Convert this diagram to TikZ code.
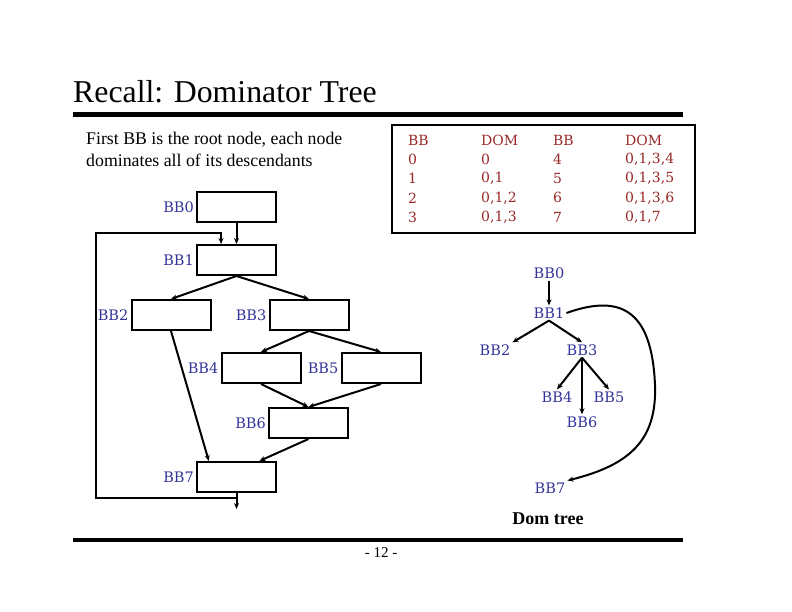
\documentclass[tikz,border=0pt]{standalone}
\usepackage{fontspec}
\setmainfont{Liberation Serif}
\newfontfamily\lblfont{DejaVu Serif}
\usetikzlibrary{calc,arrows.meta,positioning}

\definecolor{bbblue}{RGB}{51,51,153}
\definecolor{domred}{RGB}{153,40,40}

\tikzset{
  bbox/.style={draw,line width=2pt,minimum width=79pt,minimum height=30pt,inner sep=0pt},
  bblbl/.style={font=\lblfont\fontsize{14.5}{16}\selectfont,text=bbblue,inner sep=2pt},
  tbltxt/.style={font=\lblfont\fontsize{14}{16}\selectfont,text=domred,anchor=west,inner sep=0pt},
  edge/.style={line width=2pt,-{Stealth[length=6pt,width=5pt]}},
}

\begin{document}
\begin{tikzpicture}[x=1pt,y=-1pt]
  \useasboundingbox (0,0) rectangle (792,612);

  % title and rules
  \node[anchor=base west,inner sep=0pt,font=\fontsize{31.8}{34}\selectfont] (title) at (73,103) {Recall: Dominator Tree};
  \draw[line width=5pt] (73,114.5)--(683,114.5);
  \draw[line width=4pt] (73,540)--(683,540);
  \node[font=\fontsize{15}{17}\selectfont] (page) at (381,553) {- 12 -};

  \node[anchor=north west,inner sep=0pt,align=left,font=\fontsize{17.8}{22}\selectfont] (intro) at (86,132)
    {First BB is the root node, each node\\dominates all of its descendants};

  % dominator table
  \draw[line width=2pt] (392,125) rectangle (695,233);
  \foreach \a/\b/\c/\d [count=\i from 0] in {BB/DOM/BB/DOM,0/0/4/{0,1,3,4},1/{0,1}/5/{0,1,3,5},2/{0,1,2}/6/{0,1,3,6},3/{0,1,3}/7/{0,1,7}}{
    \node[tbltxt] (ta\i) at (408,140+19.3*\i) {\a};
    \node[tbltxt] (tb\i) at (481,140+19.3*\i) {\b};
    \node[tbltxt] (tc\i) at (553,140+19.3*\i) {\c};
    \node[tbltxt] (td\i) at (625,140+19.3*\i) {\d};
  }

  % control flow graph
  \node[bbox,label={[bblbl]left:BB0}] (BB0) at (236.5,207) {};
  \node[bbox,label={[bblbl]left:BB1}] (BB1) at (236.5,260) {};
  \node[bbox,label={[bblbl]left:BB2}] (BB2) at (171,315) {};
  \node[bbox,label={[bblbl]left:BB3}] (BB3) at (309,315) {};
  \node[bbox,label={[bblbl]left:BB4}] (BB4) at (261,368) {};
  \node[bbox,label={[bblbl]left:BB5}] (BB5) at (381,368) {};
  \node[bbox,label={[bblbl]left:BB6}] (BB6) at (308.5,423) {};
  \node[bbox,label={[bblbl]left:BB7}] (BB7) at (236.5,477) {};
  \coordinate (exit) at (236.5,509);

  \draw[edge] (BB0.south)--(BB1.north);
  \draw[edge] (BB1.south)--(BB2.north);
  \draw[edge] (BB1.south)--(BB3.north);
  \draw[edge] (BB3.south)--(BB4.north);
  \draw[edge] (BB3.south)--(BB5.north);
  \draw[edge] (BB4.south)--(BB6.north);
  \draw[edge] (BB5.south)--(BB6.north);
  \draw[edge] (BB6.south)--(BB7.35);
  \draw[edge] (BB2.south)--(BB7.150);
  \draw[edge] (BB7.south)--(exit);
  \draw[edge] ($(BB7.south)+(0,5)$) -| (96,233) -| (BB1.134);

  % dom tree
  \node[bblbl] (d0) at (549,273) {BB0};
  \node[bblbl] (d1) at (549,313) {BB1};
  \node[bblbl] (d2) at (495,350) {BB2};
  \node[bblbl] (d3) at (582,350) {BB3};
  \node[bblbl] (d4) at (557,397) {BB4};
  \node[bblbl] (d5) at (609,397) {BB5};
  \node[bblbl] (d6) at (582,422) {BB6};
  \node[bblbl] (d7) at (550,488) {BB7};
  \node[font=\bfseries\fontsize{18}{20}\selectfont] (cap) at (548,519) {Dom tree};

  \draw[edge] (d0)--(d1);
  \draw[edge] (d1.south)--(d2.north east);
  \draw[edge] (d1.south)--(d3.north);
  \draw[edge] (d3.south)--(d4.north);
  \draw[edge] (d3.south)--(d5.north);
  \draw[edge] (d3.south)--(d6.north);
  \draw[edge] (d1.east) .. controls (625,292) and (652,315) .. (655,385)
    .. controls (657,440) and (630,465) .. (d7.north east);
\end{tikzpicture}
\end{document}
